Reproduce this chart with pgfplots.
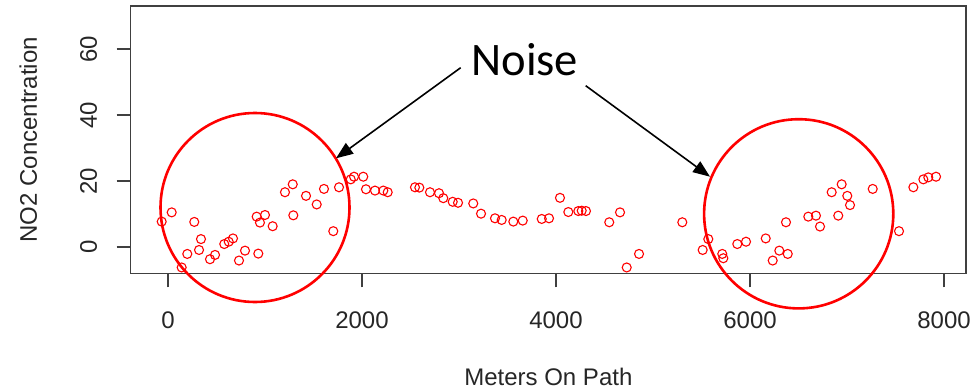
\documentclass[border=0pt]{standalone}
\usepackage{fontspec}
\setmainfont{Liberation Sans}
\newfontfamily\calibri{Carlito}
\usepackage{pgfplots}
\pgfplotsset{compat=1.18}
\usetikzlibrary{arrows.meta}
\begin{document}
\begin{tikzpicture}
\begin{axis}[
  name=ax,
  at={(0pt,0pt)}, anchor=south west,
  scale only axis, width=835.3pt, height=267.3pt,
  xmin=-384.5, xmax=8226.8, ymin=-7.97, ymax=73.03,
  xtick={0,2000,4000,6000,8000}, ytick={0,20,40,60},
  scaled ticks=false,
  /pgf/number format/1000 sep={},
  /pgf/number format/assume math mode=true,
  tick pos=left, tick align=outside, major tick length=14pt,
  axis line style={black!75, line width=1.2pt},
  tick style={black!75, line width=1.2pt},
  ticklabel style={font=\fontsize{24}{28}\selectfont, text=black!85},
  xticklabel style={anchor=base, yshift=-41.3pt},
  yticklabel style={rotate=90, anchor=base, yshift=19.7pt},
  label style={font=\fontsize{24}{28}\selectfont, text=black!85},
  xlabel={Meters On Path},
  ylabel={NO2 Concentration},
  xlabel style={at={(axis description cs:0.5,-0.419)}, anchor=base},
  ylabel style={at={(axis description cs:-0.1122,0.5)}, anchor=base},
]
\addplot[only marks, mark=o, mark size=4.5pt, red, mark options={line width=1.1pt}] table {
x y
-65 7.7
38 10.5
271 7.6
141 -6.2
199 -2.1
340 2.4
320 -0.9
433 -3.7
485 -2.4
580 0.9
626 1.6
670 2.6
732 -4.1
794 -1.1
931 -2.0
914 9.2
948 7.4
1000 9.7
1079 6.3
1206 16.6
1286 19.0
1292 9.6
1423 15.5
1533 12.9
1608 17.6
1704 4.8
1763 18.1
1884 20.5
1918 21.3
2013 21.3
2041 17.5
2134 17.1
2220 17.1
2265 16.6
2546 18.1
2591 18.0
2701 16.6
2794 16.3
2838 14.8
2935 13.7
2990 13.4
3147 13.2
3227 10.1
3371 8.7
3440 8.2
3560 7.7
3657 8.0
3853 8.5
3928 8.7
4041 14.9
4127 10.6
4230 10.9
4265 11.0
4309 10.9
4549 7.5
4660 10.5
4729 -6.2
4856 -2.1
5302 7.5
5512 -0.9
5570 2.4
5714 -2.1
5725 -3.4
5869 0.9
5959 1.6
6162 2.6
6234 -4.1
6302 -1.1
6389 -2.1
6371 7.5
6601 9.2
6680 9.5
6722 6.2
6842 16.6
6945 19.0
7003 15.5
7031 12.7
6910 9.5
7265 17.6
7536 4.8
7684 18.1
7787 20.5
7838 21.1
7918 21.3
};
\end{axis}
\begin{scope}[shift={(ax.south west)}, x=1pt, y=1pt, shift={(-130.7,273.3)}, yscale=-1]
\draw[red, line width=2.6pt] (255,207.5) circle (94.5);
\draw[red, line width=2.6pt] (798.7,213.8) circle (94.6);
\draw[line width=1.6pt, -{Triangle[length=17pt,width=13pt]}] (460.7,67.7) -- (336,158.3);
\draw[line width=1.6pt, -{Triangle[length=17pt,width=13pt]}] (585.7,85.7) -- (710,176.7);
\end{scope}
\node[anchor=base west, inner sep=0pt, font=\calibri\fontsize{46.6}{50}\selectfont]
  at ([shift={(340.5pt,198.3pt)}]ax.south west) {Noise};
\pgfresetboundingbox
\path[use as bounding box] ([shift={(-130.7pt,-115.7pt)}]ax.south west) rectangle ([shift={(842.3pt,273.3pt)}]ax.south west);
\end{tikzpicture}
\end{document}
